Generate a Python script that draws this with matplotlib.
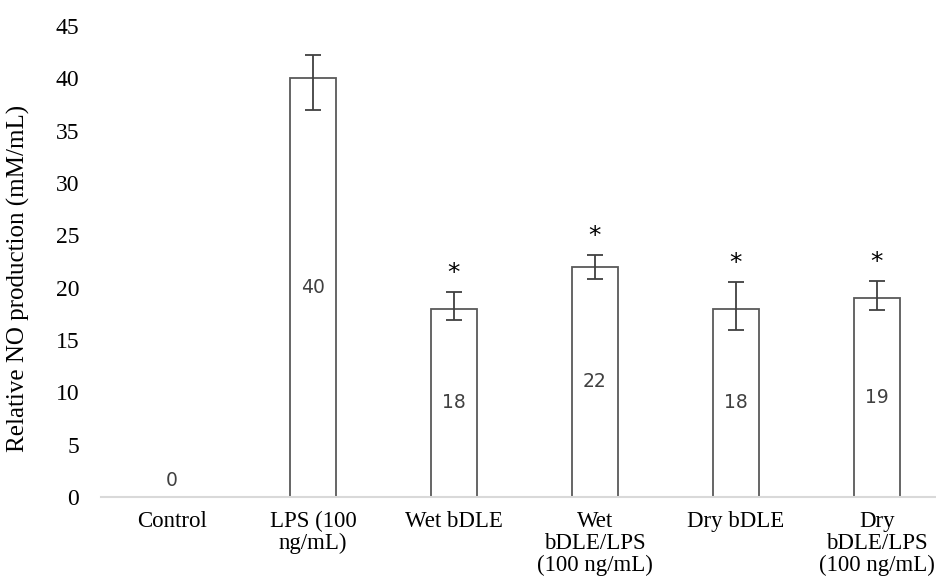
import matplotlib.pyplot as plt

categories = ["Control", "LPS (100\nng/mL)", "Wet bDLE", "Wet\nbDLE/LPS\n(100 ng/mL)",
              "Dry bDLE", "Dry\nbDLE/LPS\n(100 ng/mL)"]
no_production = [0, 40, 18, 22, 18, 19]
err_upper = [0, 2.2, 1.6, 1.15, 2.5, 1.6]
err_lower = [0, 3.0, 1.1, 1.2, 2.0, 1.1]
significant = [False, False, True, True, True, True]
yticks = [0, 5, 10, 15, 20, 25, 30, 35, 40, 45]

serif = "Liberation Serif"
sans = "DejaVu Sans"

fig = plt.figure(figsize=(9.37, 5.82), dpi=100)
ax = fig.add_axes([101.5 / 937, 85 / 582, 1 - 101.5 / 937, (497 - 26) / 582])

x = list(range(len(categories)))
ax.bar(x, no_production, width=0.32, color="white", edgecolor="#595959", linewidth=1.3, zorder=2)
ax.errorbar(x[1:], no_production[1:], yerr=[err_lower[1:], err_upper[1:]], fmt="none",
            ecolor="#404040", elinewidth=1.3, capsize=6, capthick=1.3, zorder=3)

# valores dentro das barras (metade da altura) e asteriscos acima do erro
for xi, v, up, sig in zip(x, no_production, err_upper, significant):
    ypos = v / 2 if v > 0 else 1.6
    ax.text(xi, ypos, f"{v}", ha="center", va="center", fontsize=13.5, family=sans, color="#404040")
    if sig:
        ax.annotate("*", (xi, v + up), xytext=(0, 5), textcoords="offset points",
                    ha="center", va="bottom", fontsize=18, family=sans, color="black")

ax.set_xlim(-0.5, -0.5 + (937 - 101.5) / 141)
ax.set_ylim(0, 45)
ax.set_yticks(yticks)
ax.set_yticklabels([str(t) for t in yticks], family=serif, fontsize=17)
ax.set_xticks(x)
ax.set_xticklabels(categories, family=serif, fontsize=16.5, linespacing=1.07, va="top")
ax.tick_params(axis="both", length=0)
ax.tick_params(axis="y", pad=16)
ax.tick_params(axis="x", pad=10)

for side in ["top", "right", "left"]:
    ax.spines[side].set_visible(False)
ax.spines["bottom"].set_color("#d9d9d9")
ax.spines["bottom"].set_linewidth(1.5)
ax.spines["bottom"].set_zorder(4)

ax.set_ylabel("Relative NO production (mM/mL)", family=serif, fontsize=18)
ax.yaxis.set_label_coords((30 - 101.5) / 835.5, (497 - 278) / 471)

fig.savefig("out.png", dpi=100)
